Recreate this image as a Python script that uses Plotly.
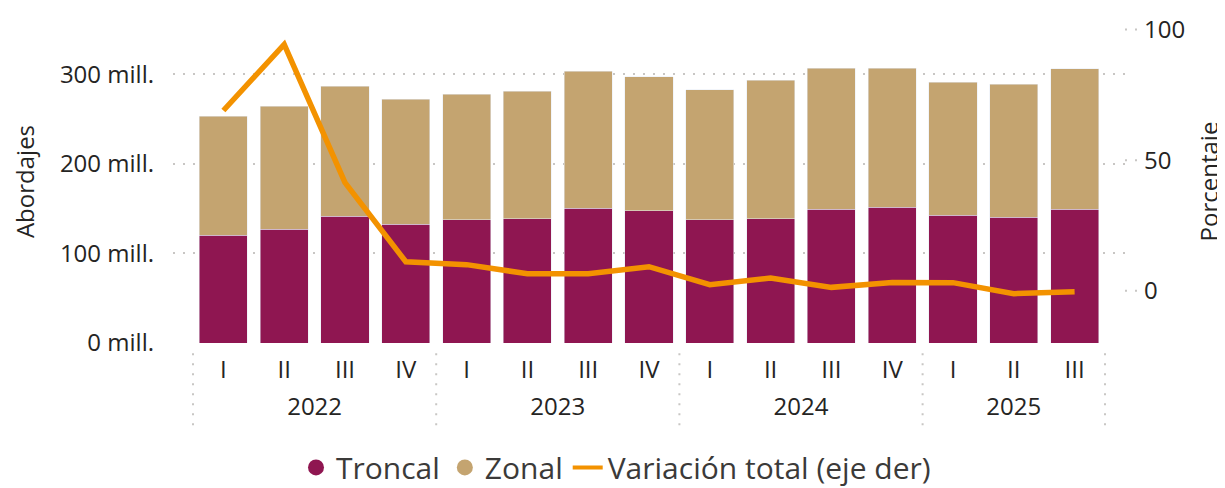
import plotly.graph_objects as go

# ---- data ----
years = ["2022"] * 4 + ["2023"] * 4 + ["2024"] * 4 + ["2025"] * 3
quarters = ["I", "II", "III", "IV", "I", "II", "III", "IV", "I", "II", "III", "IV", "I", "II", "III"]
troncal = [120.3, 127.0, 141.5, 132.6, 137.4, 138.5, 150.4, 147.4, 137.4, 138.5, 149.3, 151.5, 142.6, 140.4, 149.3]
total = [253.2, 264.3, 286.6, 272.1, 277.7, 281.0, 303.0, 296.8, 282.4, 293.4, 306.8, 306.8, 291.1, 288.9, 305.7]
zonal = [t - r for t, r in zip(total, troncal)]
variacion = [69.0, 94.3, 41.4, 11.1, 10.0, 6.5, 6.5, 9.2, 2.3, 4.9, 1.3, 3.2, 3.1, -1.1, -0.4]

left_ticks = [0, 100, 200, 300]
left_labels = [f"{v} mill." for v in left_ticks]
right_ticks = [0, 50, 100]

C_TRONCAL = "#8F1651"
C_ZONAL = "#C4A470"
C_LINE = "#F39200"
C_TEXT = "#252423"
C_LEG = "#3B3A39"
C_GRID = "#C8C6C4"
FONT = "Open Sans"

# category positions on a linear axis (one slot per quarter)
pos = list(range(len(quarters)))
year_names = list(dict.fromkeys(years))
year_centers = [sum(p for p, y in zip(pos, years) if y == yn) / years.count(yn) for yn in year_names]
boundaries = [-0.5] + [p - 0.5 for p in pos[1:] if years[p] != years[p - 1]] + [pos[-1] + 0.5]

fig = go.Figure()
fig.add_trace(go.Bar(x=pos, y=troncal, name="Troncal", marker_color=C_TRONCAL, showlegend=False))
fig.add_trace(go.Bar(x=pos, y=zonal, name="Zonal", marker_color=C_ZONAL, showlegend=False))
fig.add_trace(go.Scatter(x=pos, y=variacion, name="Variación total (eje der)", mode="lines",
                         line=dict(color=C_LINE, width=5.5), yaxis="y2", showlegend=False))
# carrier for the year-label axis
fig.add_trace(go.Scatter(x=year_centers, y=[None] * len(year_centers), xaxis="x2",
                         mode="markers", showlegend=False, hoverinfo="skip"))

# legend proxies (circle markers like the reference)
fig.add_trace(go.Scatter(x=[None], y=[None], mode="markers", name="Troncal",
                         marker=dict(symbol="circle", size=19, color=C_TRONCAL)))
fig.add_trace(go.Scatter(x=[None], y=[None], mode="markers", name="Zonal",
                         marker=dict(symbol="circle", size=19, color=C_ZONAL)))
fig.add_trace(go.Scatter(x=[None], y=[None], mode="lines", name="Variación total (eje der)",
                         line=dict(color=C_LINE, width=4)))

# page is offset by the 8px body margin; geometry below is in figure pixels
OFF = 8
W, H = 1225 - OFF, 488 - OFF
PL, PR, PT, PB = 173 - OFF, 1125 - OFF, 20 - OFF, 342.7 - OFF
PH = PB - PT
cat_w = 912 / 15
pad = 20 / cat_w
xrange = [-0.5 - pad, pos[-1] + 0.5 + pad]

fig.update_layout(
    width=W, height=H,
    margin=dict(l=PL, r=W - PR, t=PT, b=H - PB, autoexpand=False),
    barmode="stack", bargap=0.21,
    plot_bgcolor="white", paper_bgcolor="white",
    font=dict(family=FONT, size=24, color=C_TEXT),
    xaxis=dict(range=xrange, tickvals=pos, ticktext=quarters,
               showgrid=False, zeroline=False, showline=False, ticks="",
               ticklabelstandoff=10, tickfont=dict(size=24, color=C_TEXT), automargin=False),
    xaxis2=dict(overlaying="x", side="bottom", anchor="y", range=xrange,
                tickvals=year_centers, ticktext=year_names,
                showgrid=False, zeroline=False, showline=False, ticks="",
                ticklabelstandoff=47, tickfont=dict(size=24, color=C_TEXT), automargin=False),
    yaxis=dict(range=[0, (342.7 - 20) / 0.8955], tickvals=left_ticks, ticktext=left_labels,
               showgrid=True, gridcolor=C_GRID, gridwidth=2, griddash="2px,8px",
               zeroline=False, showline=False, ticks="", ticklabelstandoff=18,
               title=dict(text="Abordajes", font=dict(size=24, color=C_TEXT), standoff=22),
               automargin=False),
    yaxis2=dict(overlaying="y", side="right", range=[-20, -20 + (342.7 - 20) / 2.61],
                tickvals=right_ticks, showgrid=False, zeroline=False, showline=False, ticks="",
                ticklabelstandoff=18,
                title=dict(text="Porcentaje", font=dict(size=24, color=C_TEXT), standoff=20),
                automargin=False),
    legend=dict(orientation="h", x=(616 - 173) / 952, xanchor="center",
                y=-(467 - 342.7) / PH, yanchor="middle",
                font=dict(size=30, color=C_LEG), itemwidth=30, traceorder="normal",
                bgcolor="rgba(0,0,0,0)"),
)

# dotted year dividers below the axis
for b in boundaries:
    fig.add_shape(type="line", xref="x", yref="paper", x0=b, x1=b,
                  y0=-(353 - 342.7) / PH, y1=-(425 - 342.7) / PH,
                  line=dict(color=C_GRID, width=2, dash="2px,8px"))

# short dotted marks at the right-axis ticks
for v in right_ticks:
    fig.add_shape(type="line", xref="paper", yref="y2", x0=1.0, x1=1.0 + 14 / (PR - PL),
                  y0=v, y1=v, line=dict(color=C_GRID, width=2, dash="2px,8px"))

# partial rounded box at top right (decorative)
def px2paper(px, py):
    return (px - OFF - PL) / (PR - PL), (PB - (py - OFF)) / PH

x0, y0 = px2paper(984, -20)
x1, y1 = px2paper(1208, 6)
rx = 9 / (PR - PL)
ry = 9 / PH
path = (f"M {x0},{y0} L {x0},{y1 + ry} Q {x0},{y1} {x0 + rx},{y1} "
        f"L {x1 - rx},{y1} Q {x1},{y1} {x1},{y1 + ry} L {x1},{y0}")
fig.add_shape(type="path", xref="paper", yref="paper", path=path,
              line=dict(color=C_TRONCAL, width=2))

fig.write_html("out.html")
